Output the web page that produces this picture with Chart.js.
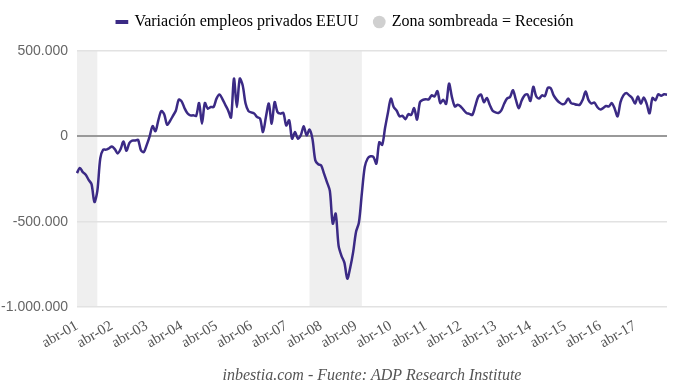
<!DOCTYPE html>
<html lang="es">
<head>
<meta charset="utf-8">
<title>Variación empleos privados EEUU</title>
<script src="https://cdn.jsdelivr.net/npm/chart.js@4.4.1/dist/chart.umd.min.js"></script>
<style>
  html, body { margin: 0; padding: 0; background: #fff; }
  canvas { display: block; }
</style>
</head>
<body>
<canvas id="grafico" width="680" height="389"></canvas>
<script>
// Variación mensual del empleo privado (ADP), abr-2001 a mar-2018
const empleos = [
  -215000, -185000, -210000, -225000, -255000, -280000, -385000, -320000, -130000, -78000, -78000, -70000,
  -60000, -75000, -100000, -75000, -30000, -85000, -40000, -25000, -25000, -20000, -82000, -92000,
  -50000, 0, 60000, 30000, 95000, 148000, 130000, 68000, 90000, 120000, 150000, 215000,
  205000, 165000, 135000, 123000, 123000, 120000, 195000, 74000, 195000, 162000, 172000, 172000,
  221000, 245000, 220000, 185000, 152000, 110000, 338000, 172000, 338000, 299000, 192000, 148000,
  140000, 133000, 113000, 104000, 25000, 113000, 192000, 74000, 201000, 142000, 133000, 137000,
  64000, 94000, -14000, 25000, -14000, 6000, 59000, 6000, 39000, -14000, -141000, -164000,
  -170000, -219000, -268000, -320000, -512000, -453000, -640000, -700000, -740000, -834000, -770000, -680000,
  -560000, -505000, -336000, -180000, -130000, -117000, -121000, -160000, -35000, -50000, 50000, 140000,
  221000, 170000, 150000, 117000, 120000, 100000, 130000, 125000, 165000, 98000, 200000, 214000,
  218000, 216000, 240000, 234000, 265000, 195000, 214000, 190000, 309000, 230000, 175000, 185000,
  175000, 155000, 137000, 132000, 125000, 175000, 230000, 245000, 200000, 225000, 185000, 150000,
  140000, 137000, 152000, 192000, 222000, 230000, 270000, 215000, 165000, 210000, 240000, 246000,
  207000, 290000, 235000, 222000, 240000, 236000, 285000, 282000, 240000, 215000, 198000, 188000,
  195000, 222000, 195000, 190000, 185000, 185000, 215000, 262000, 212000, 192000, 198000, 172000,
  158000, 165000, 178000, 175000, 195000, 162000, 117000, 200000, 240000, 254000, 240000, 225000,
  192000, 234000, 192000, 228000, 190000, 135000, 225000, 211000, 246000, 238000, 246000, 244000
];

// Meses abreviados; la serie empieza en abril de 2001
const meses = ['ene', 'feb', 'mar', 'abr', 'may', 'jun', 'jul', 'ago', 'sep', 'oct', 'nov', 'dic'];
const etiquetas = [];
for (let i = 0; i < empleos.length; i++) {
  const n = 3 + i;
  etiquetas.push(meses[n % 12] + '-' + String(1 + Math.floor(n / 12)).padStart(2, '0'));
}

// Recesiones (zona sombreada)
const recesiones = [['abr-01', 'nov-01'], ['dic-07', 'jun-09']];

// Ticks del eje Y
const ticksY = [-1000000, -500000, 0, 500000];

const tituloSerie = 'Variación empleos privados EEUU';
const tituloZona = 'Zona sombreada = Recesión';
const fuente = 'inbestia.com - Fuente: ADP Research Institute';

const morado = '#3b2a85';
const gris = '#d0d0d0';

function formato(v) {
  const s = String(Math.abs(v)).replace(/\B(?=(\d{3})+(?!\d))/g, '.');
  return v < 0 ? '-' + s : s;
}

const sombras = {
  id: 'sombras',
  beforeDraw(chart) {
    const { ctx, chartArea, scales } = chart;
    ctx.save();
    ctx.fillStyle = '#efefef';
    recesiones.forEach(([a, b]) => {
      const x0 = scales.x.getPixelForValue(Math.max(0, etiquetas.indexOf(a)));
      const x1 = scales.x.getPixelForValue(etiquetas.indexOf(b));
      ctx.fillRect(x0, chartArea.top, x1 - x0, chartArea.bottom - chartArea.top);
    });
    ctx.restore();
  }
};

const pie = {
  id: 'pie',
  afterDraw(chart) {
    const { ctx, chartArea } = chart;
    ctx.save();
    ctx.font = 'italic 16px "Liberation Serif"';
    ctx.fillStyle = '#555';
    ctx.textAlign = 'center';
    ctx.textBaseline = 'middle';
    ctx.fillText(fuente, (chartArea.left + chartArea.right) / 2, 376);
    ctx.restore();
  }
};

const grafico = new Chart(document.getElementById('grafico').getContext('2d'), {
  type: 'line',
  data: {
    labels: etiquetas,
    datasets: [{
      label: tituloSerie,
      data: empleos,
      borderColor: morado,
      borderWidth: 2.5,
      pointRadius: 0,
      tension: 0.3,
      fill: false
    }]
  },
  options: {
    responsive: false,
    animation: false,
    layout: { padding: { top: -2, right: 13, bottom: 0, left: 0 } },
    plugins: {
      tooltip: { enabled: false },
      legend: {
        position: 'top',
        labels: {
          usePointStyle: true,
          boxWidth: 9,
          boxHeight: 9,
          padding: 16,
          color: '#444',
          font: { family: 'Liberation Serif', size: 16 },
          generateLabels: () => [
            { text: tituloSerie, fillStyle: morado, strokeStyle: morado, lineWidth: 4, pointStyle: 'line' },
            { text: tituloZona, fillStyle: gris, strokeStyle: gris, lineWidth: 0, pointStyle: 'circle' }
          ]
        }
      }
    },
    scales: {
      x: {
        grid: { display: false },
        border: { display: false },
        ticks: {
          autoSkip: false,
          minRotation: 30,
          maxRotation: 30,
          padding: 2,
          color: '#555',
          font: { family: 'Liberation Serif', size: 15 },
          callback: (v, i) => etiquetas[i].startsWith('abr') ? etiquetas[i] : null
        },
        afterFit(s) { s.height = 82; }
      },
      y: {
        min: -1000000,
        max: 500000,
        afterBuildTicks(s) { s.ticks = ticksY.map(v => ({ value: v })); },
        ticks: {
          padding: 9,
          color: '#666',
          font: { family: 'Liberation Sans', size: 14 },
          callback: v => formato(v)
        },
        grid: {
          drawTicks: false,
          color: c => c.tick.value === 0 ? '#999' : '#e2e2e2',
          lineWidth: c => c.tick.value === 0 ? 2 : 1.5
        },
        border: { display: false },
        afterFit(s) { s.width = 77; }
      }
    }
  },
  plugins: [sombras, pie]
});

// más aire entre la leyenda y el área del gráfico, y leyenda algo a la derecha
const fitLeyenda = grafico.legend.fit;
grafico.legend.fit = function () {
  fitLeyenda.call(this);
  this.height += 11;
};
const drawLeyenda = grafico.legend.draw;
grafico.legend.draw = function () {
  this.ctx.save();
  this.ctx.translate(12, 0);
  drawLeyenda.call(this);
  this.ctx.restore();
};
grafico.update();
</script>
</body>
</html>
